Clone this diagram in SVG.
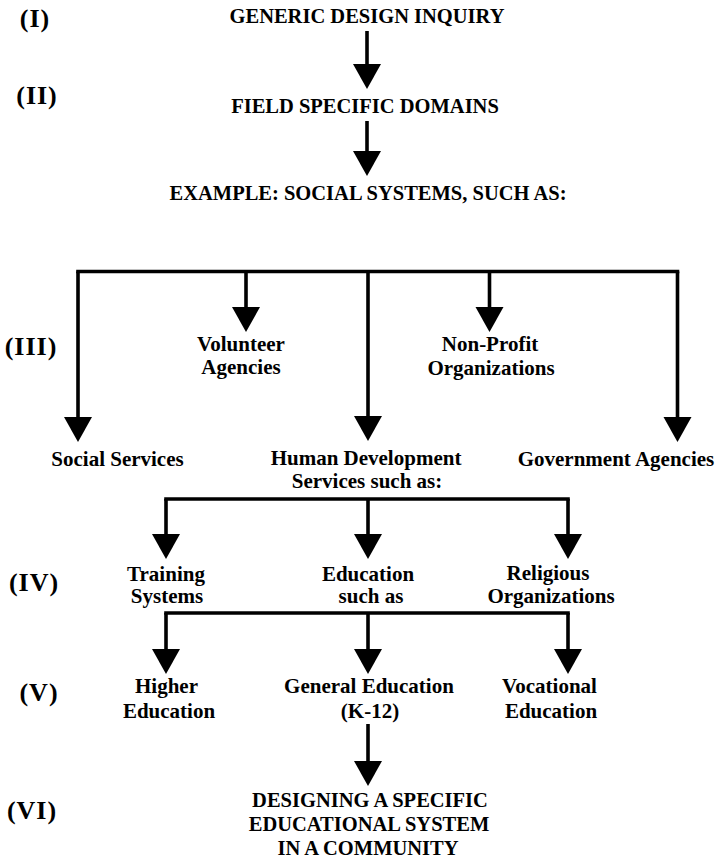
<svg xmlns="http://www.w3.org/2000/svg" width="716" height="860" viewBox="0 0 716 860">
  <style>
    text { font-family: "Liberation Serif", "Times New Roman", serif; font-weight: bold; fill: #000; text-anchor: middle; }
    .head { font-size: 20.5px; }
    .item { font-size: 21px; }
    .lvl { font-size: 26px; letter-spacing: 1px; }
    .wire { fill: none; stroke: #000; stroke-width: 3.6; }
    .bar { fill: none; stroke: #000; stroke-width: 3.6; stroke-linecap: square; }
  </style>
  <defs>
    <marker id="tri" markerUnits="userSpaceOnUse" markerWidth="26" markerHeight="30" viewBox="0 0 26 30" refX="1" refY="15" orient="auto" overflow="visible">
      <path d="M0,1 L25,15 L0,29 Z" fill="#000"/>
    </marker>
  </defs>

  <rect width="716" height="860" fill="#fff"/>

  <!-- level numerals -->
  <g id="levels">
    <text class="lvl" x="35" y="27">(I)</text>
    <text class="lvl" x="37" y="104">(II)</text>
    <text class="lvl" x="31" y="355">(III)</text>
    <text class="lvl" x="34" y="591">(IV)</text>
    <text class="lvl" x="39" y="701">(V)</text>
    <text class="lvl" x="32" y="819">(VI)</text>
  </g>

  <g id="connectors">
    <path class="wire" d="M367,31 V65" marker-end="url(#tri)"/>
    <path class="wire" d="M367,121 V152" marker-end="url(#tri)"/>

    <path class="bar" d="M78,271.5 H677.5"/>
    <path class="wire" d="M78,271.5 V418" marker-end="url(#tri)"/>
    <path class="wire" d="M246,271.5 V308" marker-end="url(#tri)"/>
    <path class="wire" d="M368,271.5 V417" marker-end="url(#tri)"/>
    <path class="wire" d="M489.5,271.5 V308" marker-end="url(#tri)"/>
    <path class="wire" d="M677.5,271.5 V418" marker-end="url(#tri)"/>

    <path class="bar" d="M166,499 H568"/>
    <path class="wire" d="M166,499 V535" marker-end="url(#tri)"/>
    <path class="wire" d="M368,499 V535" marker-end="url(#tri)"/>
    <path class="wire" d="M568,499 V535" marker-end="url(#tri)"/>

    <path class="bar" d="M166,613 H568"/>
    <path class="wire" d="M166,613 V650" marker-end="url(#tri)"/>
    <path class="wire" d="M368,613 V650" marker-end="url(#tri)"/>
    <path class="wire" d="M568,613 V650" marker-end="url(#tri)"/>

    <path class="wire" d="M368,724 V762" marker-end="url(#tri)"/>
  </g>

  <g id="generic-inquiry"><text class="head" x="367" y="23">GENERIC DESIGN INQUIRY</text></g>
  <g id="field-domains"><text class="head" x="365" y="113">FIELD SPECIFIC DOMAINS</text></g>
  <g id="social-systems"><text class="head" x="368" y="200">EXAMPLE: SOCIAL SYSTEMS, SUCH AS:</text></g>

  <g id="volunteer-agencies">
    <text class="item" x="241" y="351">Volunteer</text>
    <text class="item" x="241" y="374">Agencies</text>
  </g>
  <g id="non-profit">
    <text class="item" x="490" y="351">Non-Profit</text>
    <text class="item" x="491" y="375">Organizations</text>
  </g>
  <g id="social-services"><text class="item" x="117.5" y="466">Social Services</text></g>
  <g id="human-development">
    <text class="item" x="366" y="465">Human Development</text>
    <text class="item" x="367" y="488">Services such as:</text>
  </g>
  <g id="government-agencies"><text class="item" x="616" y="466">Government Agencies</text></g>

  <g id="training-systems">
    <text class="item" x="166" y="581">Training</text>
    <text class="item" x="167" y="603">Systems</text>
  </g>
  <g id="education">
    <text class="item" x="368" y="581">Education</text>
    <text class="item" x="371" y="603">such as</text>
  </g>
  <g id="religious-organizations">
    <text class="item" x="548" y="580">Religious</text>
    <text class="item" x="551" y="603">Organizations</text>
  </g>

  <g id="higher-education">
    <text class="item" x="166.5" y="693">Higher</text>
    <text class="item" x="169" y="718">Education</text>
  </g>
  <g id="general-education">
    <text class="item" x="369" y="693">General Education</text>
    <text class="item" x="370" y="718">(K-12)</text>
  </g>
  <g id="vocational-education">
    <text class="item" x="549.5" y="693">Vocational</text>
    <text class="item" x="551" y="718">Education</text>
  </g>

  <g id="community-system">
    <text class="head" x="370" y="807">DESIGNING A SPECIFIC</text>
    <text class="head" x="369" y="831">EDUCATIONAL SYSTEM</text>
    <text class="head" x="368" y="855">IN A COMMUNITY</text>
  </g>
</svg>
